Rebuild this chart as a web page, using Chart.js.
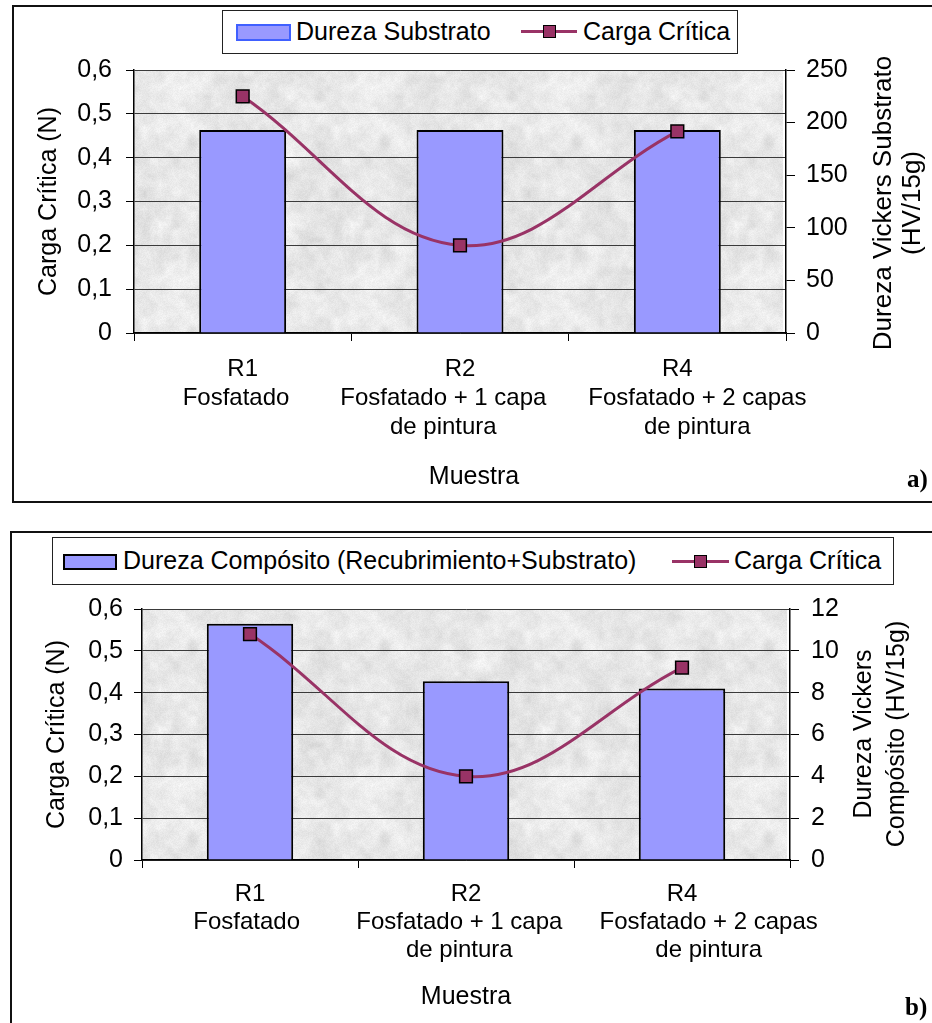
<!DOCTYPE html>
<html lang="es">
<head>
<meta charset="utf-8">
<title>Carga crítica y dureza Vickers</title>
<script src="https://cdn.jsdelivr.net/npm/chart.js@4.4.1/dist/chart.umd.min.js"></script>
<style>
  html, body { margin: 0; padding: 0; background: #fff; }
  body { width: 932px; height: 1023px; position: relative; overflow: hidden;
         font-family: "Liberation Sans", Arial, sans-serif; color: #000; }
  .panel { position: absolute; border: 2px solid #111; box-sizing: border-box; }
  canvas { position: absolute; left: 0; }
  .legend { position: absolute; border: 1.5px solid #222; box-sizing: border-box; background: #fff;
            font-size: 25px; }
  .legend .sw { position: absolute; background: #9999ff; box-sizing: border-box; }
  .legend .ln { position: absolute; height: 3px; background: #993366; }
  .legend .mk { position: absolute; width: 13px; height: 13px; background: #993366;
                border: 1.5px solid #000; box-sizing: border-box; }
  .legend .tx { position: absolute; white-space: nowrap; line-height: 1; }
  .tag { position: absolute; font-family: "Liberation Serif", "Times New Roman", serif;
         font-weight: bold; font-size: 25px; line-height: 1; }
</style>
</head>
<body>
<div class="panel" style="left:12px; top:5px; width:930px; height:498px;"></div>
<div class="panel" style="left:10px; top:531px; width:930px; height:500px;"></div>

<canvas id="chartA" width="932" height="505" style="top:0;"></canvas>
<canvas id="chartB" width="932" height="518" style="top:505px;"></canvas>

<div class="legend" style="left:222px; top:10px; width:516px; height:44px;">
  <div class="sw" style="left:13px; top:13px; width:55px; height:17px; border:2px solid #4060ff;"></div>
  <div class="tx" style="left:73px; top:8px;">Dureza Substrato</div>
  <div class="ln" style="left:298px; top:19px; width:56px;"></div>
  <div class="mk" style="left:320px; top:14px;"></div>
  <div class="tx" style="left:360px; top:8px;">Carga Crítica</div>
</div>

<div class="legend" style="left:52px; top:537px; width:842px; height:48px;">
  <div class="sw" style="left:10px; top:16px; width:54px; height:16px; border:2px solid #000;"></div>
  <div class="tx" style="left:70px; top:10px;">Dureza Compósito (Recubrimiento+Substrato)</div>
  <div class="ln" style="left:619px; top:22px; width:57px;"></div>
  <div class="mk" style="left:641px; top:17px;"></div>
  <div class="tx" style="left:681px; top:10px;">Carga Crítica</div>
</div>

<div class="tag" style="left:907px; top:466px;">a)</div>
<div class="tag" style="left:905px; top:994px;">b)</div>

<script>
// Sample categories (multi-line tick labels; the padding spaces nudge the
// wrapped lines sideways so neighbouring labels do not run into each other)
const categoriesA = [
  ["R1", "Fosfatado  "],
  ["R2", "Fosfatado + 1 capa     ", "de pintura     "],
  ["R4", "      Fosfatado + 2 capas", "      de pintura"]
];
const categoriesB = [
  ["R1", "Fosfatado "],
  ["R2", "Fosfatado + 1 capa  ", "de pintura  "],
  ["R4", "        Fosfatado + 2 capas", "        de pintura"]
];
// Critical load (N), same measurements in both panels
const cargaCritica = [0.54, 0.20, 0.46];
// Substrate Vickers hardness (HV/15g)
const durezaSubstrato = [193, 193, 193];
// Composite Vickers hardness (coating + substrate, HV/15g)
const durezaComposito = [11.3, 8.55, 8.2];
// Axis tick values
const ticksCarga = [0, 0.1, 0.2, 0.3, 0.4, 0.5, 0.6];
const ticksSubstrato = [0, 50, 100, 150, 200, 250];
const ticksComposito = [0, 2, 4, 6, 8, 10, 12];

const FONT = '"Liberation Sans", Arial, sans-serif';
const BAR_FILL = '#9999ff';
const LINE_COLOR = '#993366';

// Granite-like plot background: tileable value noise from an integer hash
function granitePattern(ctx) {
  const s = 192;
  const c = document.createElement('canvas');
  c.width = c.height = s;
  const g = c.getContext('2d');
  const img = g.createImageData(s, s);
  const hash = (x, y, seed) => {
    let n = (Math.imul(x, 374761393) + Math.imul(y, 668265263) + Math.imul(seed, 982451653)) | 0;
    n = Math.imul(n ^ (n >>> 13), 1274126177);
    n = n ^ (n >>> 16);
    return (n >>> 0) / 4294967296;
  };
  const smooth = t => t * t * (3 - 2 * t);
  const octave = (x, y, cell, seed) => {
    const n = s / cell;
    const gx = x / cell, gy = y / cell;
    const i = Math.floor(gx), j = Math.floor(gy);
    const fx = smooth(gx - i), fy = smooth(gy - j);
    const L = (a, b) => hash(((a % n) + n) % n, ((b % n) + n) % n, seed);
    const a = L(i, j), b = L(i + 1, j), cc = L(i, j + 1), d = L(i + 1, j + 1);
    return (a * (1 - fx) + b * fx) * (1 - fy) + (cc * (1 - fx) + d * fx) * fy;
  };
  for (let y = 0; y < s; y++) {
    for (let x = 0; x < s; x++) {
      const noise = 0.45 * octave(x, y, 16, 1) + 0.35 * octave(x, y, 8, 2) + 0.2 * octave(x, y, 4, 3);
      const grain = hash(x, y, 7);
      const v = Math.round(231 + (noise - 0.5) * 34 + (grain - 0.5) * 10);
      const k = (y * s + x) * 4;
      img.data[k] = img.data[k + 1] = img.data[k + 2] = Math.min(250, v);
      img.data[k + 3] = 255;
    }
  }
  g.putImageData(img, 0, 0);
  return ctx.createPattern(c, 'repeat');
}

const plotBackground = {
  id: 'plotBackground',
  beforeDraw(chart) {
    const { ctx, chartArea: a } = chart;
    ctx.save();
    ctx.fillStyle = granitePattern(ctx);
    ctx.fillRect(a.left, a.top, a.right - a.left - 3, a.bottom - a.top);
    ctx.restore();
  }
};

// Free-standing titles: right axis reads bottom-to-top, like the left one
const freeTitles = {
  id: 'freeTitles',
  afterDraw(chart, args, opts) {
    const ctx = chart.ctx;
    ctx.save();
    ctx.fillStyle = '#000';
    ctx.textAlign = 'center';
    ctx.textBaseline = 'middle';
    (opts.items || []).forEach(it => {
      ctx.font = it.font || ('25px ' + FONT);
      ctx.save();
      ctx.translate(it.x, it.y);
      if (it.rotate) ctx.rotate(-Math.PI / 2);
      ctx.fillText(it.text, 0, 0);
      ctx.restore();
    });
    ctx.restore();
  }
};

const fmtComma = v => v === 0 ? '0' : v.toFixed(1).replace('.', ',');

function makeChart(id, cfg) {
  const ctx = document.getElementById(id).getContext('2d');
  return new Chart(ctx, {
    data: {
      labels: cfg.labels,
      datasets: [
        {
          type: 'line',
          label: 'Carga Crítica',
          data: cargaCritica,
          yAxisID: 'yCarga',
          order: 0,
          borderColor: LINE_COLOR,
          borderWidth: 3,
          tension: 0.38,
          pointStyle: 'rect',
          pointRadius: 9,
          pointHoverRadius: 9,
          pointBackgroundColor: LINE_COLOR,
          pointBorderColor: '#000',
          pointBorderWidth: 1.5
        },
        {
          type: 'bar',
          label: cfg.barLabel,
          data: cfg.barData,
          yAxisID: 'yDureza',
          order: 1,
          backgroundColor: BAR_FILL,
          borderColor: '#000',
          borderWidth: 2,
          categoryPercentage: 1,
          barPercentage: 0.4
        }
      ]
    },
    options: {
      responsive: false,
      animation: false,
      devicePixelRatio: 1,
      layout: { padding: { top: cfg.top, left: 0, right: 0, bottom: 0 } },
      plugins: {
        legend: { display: false },
        tooltip: { enabled: false },
        freeTitles: { items: cfg.titles }
      },
      scales: {
        x: {
          type: 'category',
          offset: true,
          afterFit: s => { s.height = cfg.xHeight; },
          grid: { drawOnChartArea: false, drawTicks: true, tickLength: 8, tickColor: '#000', offset: true },
          border: { display: true, color: '#000', width: 1.5 },
          ticks: {
            color: '#000',
            padding: cfg.xPad,
            maxRotation: 0,
            autoSkip: false,
            font: { family: FONT, size: 24, lineHeight: cfg.xLine }
          }
        },
        yCarga: {
          position: 'left',
          min: 0, max: 0.6,
          afterFit: s => { s.width = cfg.left; },
          afterBuildTicks: s => { s.ticks = ticksCarga.map(v => ({ value: v })); },
          grid: { color: '#3a3a3a', lineWidth: 1, tickLength: 8, tickColor: '#000' },
          border: { display: true, color: '#000', width: 1.5 },
          ticks: { color: '#000', padding: cfg.leftPad, callback: fmtComma,
                   font: { family: FONT, size: 25 } },
          title: {
            display: true,
            text: 'Carga Crítica (N)',
            color: '#000',
            font: { family: FONT, size: 25, lineHeight: 1.2 },
            padding: { top: cfg.leftTitlePad, bottom: 0 }
          }
        },
        yDureza: {
          position: 'right',
          min: 0, max: cfg.rightMax,
          afterFit: s => { s.width = cfg.right; },
          afterBuildTicks: s => { s.ticks = cfg.rightTicks.map(v => ({ value: v })); },
          grid: { drawOnChartArea: false, tickLength: 9, tickColor: '#000' },
          border: { display: true, color: '#000', width: 1.5 },
          ticks: { color: '#000', padding: cfg.rightPad, callback: v => String(v),
                   font: { family: FONT, size: 25 } }
        }
      }
    },
    plugins: [plotBackground, freeTitles]
  });
}

makeChart('chartA', {
  labels: categoriesA,
  barLabel: 'Dureza Substrato',
  barData: durezaSubstrato,
  rightMax: 250,
  rightTicks: ticksSubstrato,
  top: 70, xHeight: 172, left: 134, right: 146,
  xPad: 14, xLine: 1.2, leftPad: 14, rightPad: 11, leftTitlePad: 34,
  titles: [
    { text: 'Dureza Vickers Substrato', x: 884, y: 203, rotate: true, font: '26px ' + FONT },
    { text: '(HV/15g)', x: 913, y: 203, rotate: true, font: '26px ' + FONT },
    { text: 'Muestra', x: 474, y: 477 }
  ]
});

makeChart('chartB', {
  labels: categoriesB,
  barLabel: 'Dureza Compósito (Recubrimiento+Substrato)',
  barData: durezaComposito,
  rightMax: 12,
  rightTicks: ticksComposito,
  top: 104, xHeight: 163, left: 142, right: 142,
  xPad: 13, xLine: 1.15, leftPad: 11, rightPad: 12, leftTitlePad: 42,
  titles: [
    { text: 'Dureza Vickers', x: 864, y: 229, rotate: true },
    { text: 'Compósito (HV/15g)', x: 897, y: 229, rotate: true },
    { text: 'Muestra', x: 466, y: 492 }
  ]
});
</script>
</body>
</html>
